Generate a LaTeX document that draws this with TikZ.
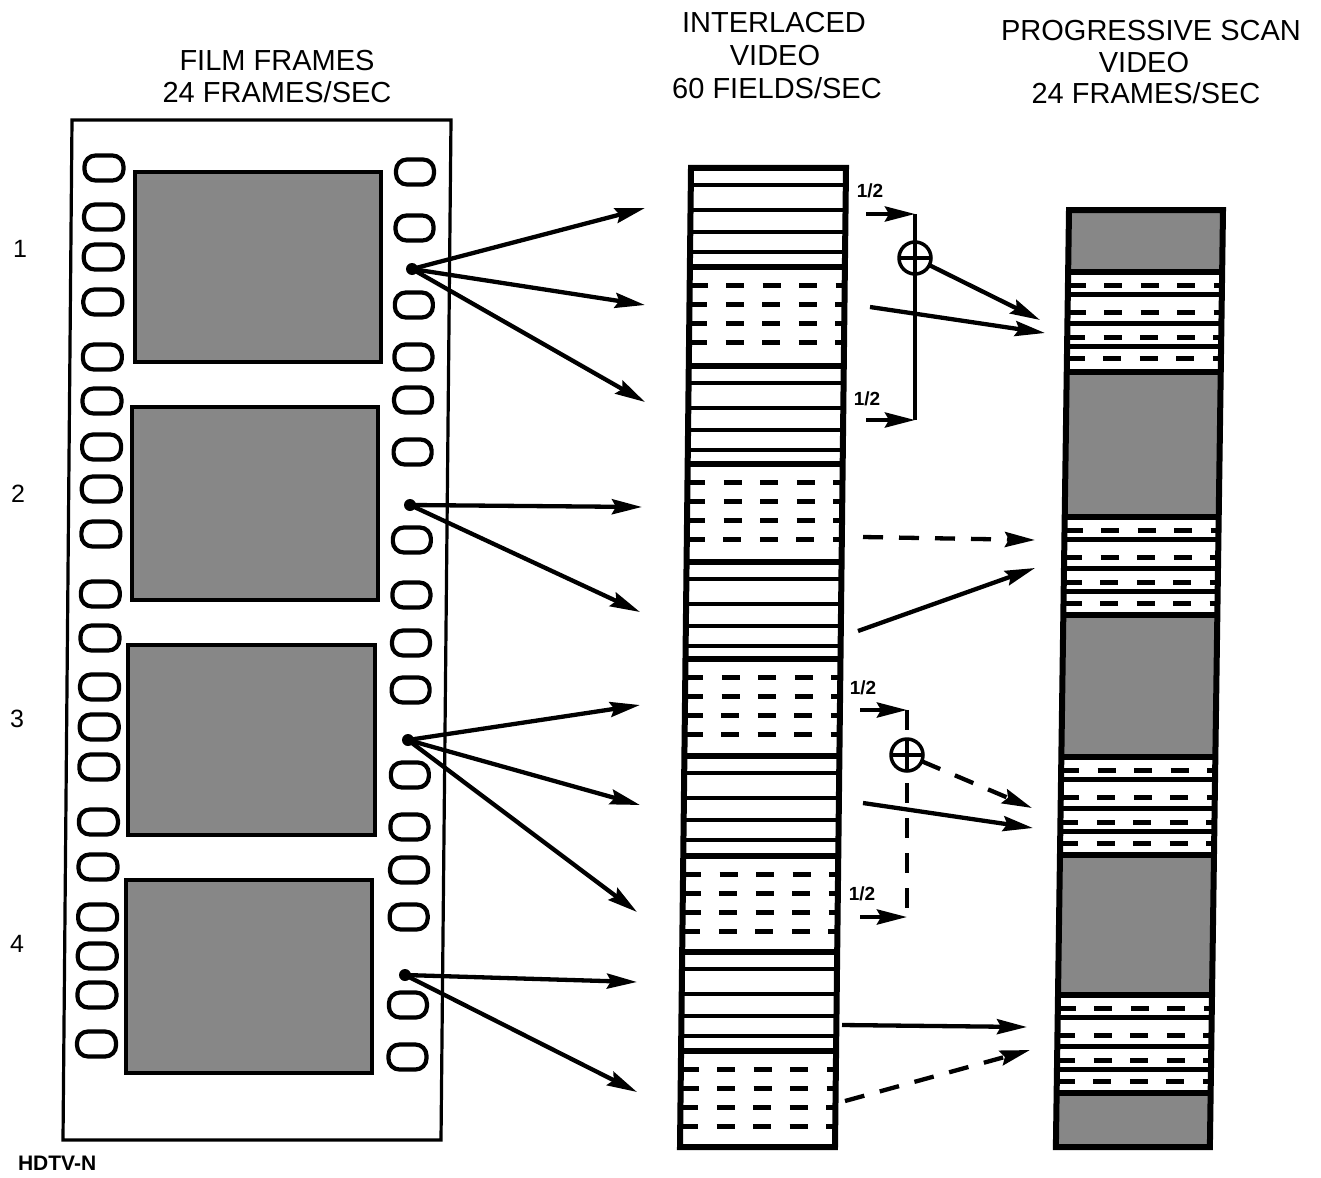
\documentclass[tikz,border=0pt]{standalone}
\usepackage{fontspec}
\setmainfont{Liberation Sans}
\usetikzlibrary{arrows.meta}
\definecolor{halftone}{gray}{0.53}
\begin{document}
\begin{tikzpicture}[x=1pt,y=-1pt,
  every node/.style={inner sep=0pt, outer sep=0pt},
  filmedge/.style={line width=3.2pt, line join=miter},
  sprocket/.style={draw, line width=4.2pt, rounded corners=11pt},
  picframe/.style={draw, line width=4.8pt, fill=halftone},
  colborder/.style={line width=6pt, line join=miter},
  fieldsep/.style={line width=6pt},
  fieldline/.style={line width=4.2pt},
  fielddash/.style={line width=5pt, dash pattern=on 18pt off 18.5pt},
  conn/.style={line width=4.3pt, -{Stealth[length=30pt,width=15pt,inset=4pt]}},
  dconn/.style={conn, dash pattern=on 20pt off 16pt},
  sumline/.style={line width=3.5pt},
  dsumline/.style={line width=3.5pt, dash pattern=on 20pt off 15pt},
  srcdot/.style={circle, fill, minimum size=12pt},
  oplus/.style={circle, draw, line width=3.5pt, minimum size=32pt},
  title/.style={font=\fontsize{29}{33}\selectfont, anchor=base},
  framenum/.style={font=\fontsize{25}{27}\selectfont, anchor=base},
  half/.style={font=\fontsize{19}{21}\selectfont\bfseries, anchor=base},
  tag/.style={font=\fontsize{21}{23}\selectfont\bfseries, anchor=base west}
]
\useasboundingbox (0,0) rectangle (1321,1177);
\fill[white] (0,0) rectangle (1321,1177);

% ---------- titles ----------
\node[title] (t1a) at (277,71) {FILM FRAMES};
\node[title] (t1b) at (277,103) {24 FRAMES/SEC};
\node[title] (t2a) at (774,33) {INTERLACED};
\node[title] (t2b) at (775,66) {VIDEO};
\node[title] (t2c) at (777,99) {60 FIELDS/SEC};
\node[title] (t3a) at (1151,41) {PROGRESSIVE SCAN};
\node[title] (t3b) at (1144,73) {VIDEO};
\node[title] (t3c) at (1146,104) {24 FRAMES/SEC};

% ---------- frame numbers ----------
\node[framenum] (n1) at (20,257) {1};
\node[framenum] (n2) at (18,502) {2};
\node[framenum] (n3) at (17,727) {3};
\node[framenum] (n4) at (17,952) {4};

\node[tag] (hdtv) at (18,1170) {HDTV-N};

% ---------- film strip ----------
\draw[filmedge] (72,120) -- (451,120) -- (441,1140) -- (63,1140) -- cycle;
\foreach \yy in {168,217,257,302,357,401,447,489,534,594,638,687,727,767,822,867,917,956,995,1044}{
  \pgfmathsetmacro\xx{104-0.0085*(\yy-165)}
  \draw[sprocket] (\xx-19.5,\yy-12.5) rectangle (\xx+19.5,\yy+12.5);
}
\foreach \yy in {172,228,305,357,400,452,540,595,643,690,775,827,870,917,1005,1057}{
  \pgfmathsetmacro\xx{415-0.0085*(\yy-172)}
  \draw[sprocket] (\xx-19,\yy-12.5) rectangle (\xx+19,\yy+12.5);
}
\draw[picframe] (135,172) rectangle (381,362);
\draw[picframe] (132,407) rectangle (378,600);
\draw[picframe] (128,645) rectangle (375,835);
\draw[picframe] (126,880) rectangle (372,1073);

\node[srcdot] (d1) at (412,269) {};
\node[srcdot] (d2) at (410,505) {};
\node[srcdot] (d3) at (408,740) {};
\node[srcdot] (d4) at (405,975) {};

% ---------- interlaced video column ----------
\begin{scope}[shift={(691,168)}, xslant=0.01124]
  \foreach \t [count=\i] in {0,99,198,296,394,491,588,688,784,883}{
    \ifodd\i
      \foreach \o in {17,42,64,84} \draw[fieldline] (0,\t+\o) -- (155,\t+\o);
    \else
      \foreach \o in {18,37,56,75} \draw[fielddash] (0,\t+\o) -- (155,\t+\o);
    \fi
  }
  \foreach \yy in {99,198,296,394,491,588,688,784,883}
    \draw[fieldsep] (0,\yy) -- (155,\yy);
  \draw[colborder] (0,0) -- (155,0) -- (155,979) -- (0,979) -- cycle;
\end{scope}

% ---------- progressive scan column ----------
\begin{scope}[shift={(1069,210)}, xslant=0.014]
  \fill[halftone] (0,0) rectangle (154,62);
  \fill[halftone] (0,162) rectangle (154,307);
  \fill[halftone] (0,405) rectangle (154,547);
  \fill[halftone] (0,645) rectangle (154,785);
  \fill[halftone] (0,883) rectangle (154,937);
  \foreach \t/\b in {62/162,307/405,547/645,785/883}{
    \foreach \o in {22.5,51.5,74.5} \draw[fieldline] (0,\t+\o) -- (154,\t+\o);
    \foreach \o in {13.5,40,65,86} \draw[fielddash] (0,\t+\o) -- (154,\t+\o);
    \draw[fieldsep] (0,\t) -- (154,\t);
    \draw[fieldsep] (0,\b) -- (154,\b);
  }
  \draw[colborder] (0,0) -- (154,0) -- (154,937) -- (0,937) -- cycle;
\end{scope}

% ---------- film frame -> fields ----------
\coordinate (f1) at (645,208);
\coordinate (f2) at (645,305);
\coordinate (f3) at (645,402);
\coordinate (f4) at (642,507);
\coordinate (f5) at (640,612);
\coordinate (f6) at (640,705);
\coordinate (f7) at (640,805);
\coordinate (f8) at (637,912);
\coordinate (f9) at (637,982);
\coordinate (f10) at (637,1092);
\draw[conn] (d1.center) -- (f1);
\draw[conn] (d1.center) -- (f2);
\draw[conn] (d1.center) -- (f3);
\draw[conn] (d2.center) -- (f4);
\draw[conn] (d2.center) -- (f5);
\draw[conn] (d3.center) -- (f6);
\draw[conn] (d3.center) -- (f7);
\draw[conn] (d3.center) -- (f8);
\draw[conn] (d4.center) -- (f9);
\draw[conn] (d4.center) -- (f10);

% ---------- group 1: fields 1+3 averaged ----------
\coordinate (a1top) at (915,214);
\coordinate (a1bot) at (915,420);
\coordinate (a1in) at (866,214);
\coordinate (a1inb) at (866,420);
\node[oplus] (o1) at (915,258) {};
\draw[sumline] (a1top) -- (a1bot);
\draw[sumline] (o1.west) -- (o1.east);
\draw[conn] (a1in) -- (a1top);
\draw[conn] (a1inb) -- (a1bot);
\node[half] (h1) at (870,197) {1/2};
\node[half] (h2) at (867,405) {1/2};
\coordinate (p1a) at (1040,320);
\coordinate (p1b) at (1045,333);
\coordinate (s2) at (870,307);
\draw[conn] (o1) -- (p1a);
\draw[conn] (s2) -- (p1b);

% ---------- group 2 ----------
\coordinate (s4) at (863,537);
\coordinate (p2a) at (1035,540);
\coordinate (s5) at (858,631);
\coordinate (p2b) at (1035,568);
\draw[dconn] (s4) -- (p2a);
\draw[conn] (s5) -- (p2b);

% ---------- group 3: fields 6+8 averaged ----------
\coordinate (a3top) at (907,710);
\coordinate (a3bot) at (907,917);
\coordinate (a3in) at (860,710);
\coordinate (a3inb) at (860,917);
\node[oplus] (o2) at (907,755) {};
\draw[dsumline] (a3top) -- (o2.north);
\draw[dsumline, dash phase=23pt] (o2.south) -- (a3bot);
\draw[sumline] (o2.north) -- (o2.south);
\draw[sumline] (o2.west) -- (o2.east);
\draw[conn] (a3in) -- (a3top);
\draw[conn] (a3inb) -- (a3bot);
\node[half] (h3) at (863,694) {1/2};
\node[half] (h4) at (862,900) {1/2};
\coordinate (p3a) at (1032,808);
\coordinate (s7) at (863,803);
\coordinate (p3b) at (1033,828);
\draw[dconn] (o2) -- (p3a);
\draw[conn] (s7) -- (p3b);

% ---------- group 4 ----------
\coordinate (s9) at (842,1025);
\coordinate (p4a) at (1027,1027);
\coordinate (s10) at (845,1101);
\coordinate (p4b) at (1030,1050);
\draw[conn] (s9) -- (p4a);
\draw[dconn] (s10) -- (p4b);
\end{tikzpicture}
\end{document}
